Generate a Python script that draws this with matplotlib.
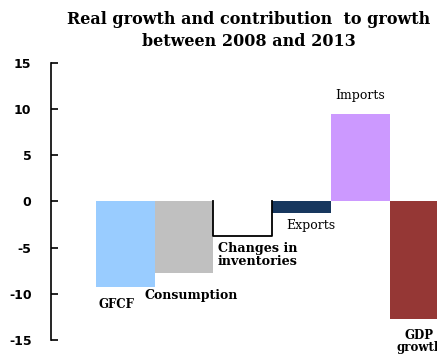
import matplotlib.pyplot as plt
import numpy as np

categories = ['GFCF', 'Consumption', 'Changes in\ninventories', 'Exports', 'Imports', 'GDP\ngrowth']
values = [-9.3, -7.7, -3.7, -1.3, 9.5, -12.7]
colors = ['#99ccff', '#c0c0c0', 'white', '#17375e', '#cc99ff', '#953735']
yticks = [-15, -10, -5, 0, 5, 10, 15]

plt.rcParams['font.family'] = ['DejaVu Serif']

fig = plt.figure(figsize=(4.37, 3.58), dpi=100)
ax = fig.add_axes([0.1167, 0.0503, 0.8833, 0.774])

x = np.arange(len(categories))
ax.bar(x, values, width=1.0, color=colors, linewidth=0)

# changes in inventories: open outline without top edge
i = 2
ax.plot([x[i] - 0.5, x[i] - 0.5, x[i] + 0.5, x[i] + 0.5], [0, values[i], values[i], 0],
        color='black', lw=1.3)

# labels
fs = 8.5
ax.text(x[0] - 0.15, values[0] - 1.1, categories[0], ha='center', va='top', fontsize=fs,
        fontweight='semibold')
ax.text(x[1] + 0.12, values[1] - 1.8, categories[1], ha='center', va='top', fontsize=fs + 0.5,
        fontweight='semibold')
ax.text(x[2] - 0.42, values[2] - 0.7, categories[2], ha='left', va='top', fontsize=fs + 0.7,
        fontweight='bold', linespacing=1.0)
ax.text(x[3] + 0.15, values[3] - 0.6, categories[3], ha='center', va='top', fontsize=fs + 0.5)
ax.text(x[4], values[4] + 1.3, categories[4], ha='center', va='bottom', fontsize=fs + 0.5)
ax.text(x[5], values[5] - 1.1, categories[5], ha='center', va='top', fontsize=fs,
        fontweight='semibold', linespacing=0.95)

ax.set_xlim(-1.26, 5.3)
ax.set_ylim(-15, 15)
ax.set_yticks(yticks)
ax.set_yticklabels([str(t) for t in yticks], fontweight='bold', fontsize=9, family='DejaVu Sans')
ax.tick_params(axis='y', direction='in', length=5, width=1.2, pad=14)
ax.set_xticks([])
for s in ['top', 'right', 'bottom']:
    ax.spines[s].set_visible(False)
ax.spines['left'].set_linewidth(1.2)

fig.text(0.57, 0.968, 'Real growth and contribution  to growth\nbetween 2008 and 2013',
         ha='center', va='top', fontsize=11.5, fontweight='bold', linespacing=1.35)

plt.savefig('out.png', dpi=100)
